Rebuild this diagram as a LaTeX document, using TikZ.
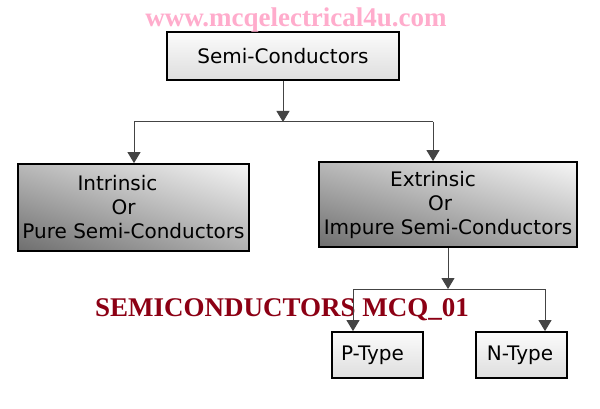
\documentclass[tikz,border=0pt]{standalone}
\usepackage{fontspec}
\setmainfont{DejaVu Sans}
\newfontfamily\timesbf{Liberation Serif}[BoldFont={Liberation Serif Bold}]
\usetikzlibrary{arrows.meta,shadings}
\definecolor{wmpink}{RGB}{255,172,204}
\definecolor{darkred}{RGB}{140,0,20}
\definecolor{conncol}{RGB}{68,68,68}
\tikzset{
  lightbox/.style={draw=black, line width=1.8pt, top color=gray!3, bottom color=gray!26, inner sep=0pt},
  darkbox/.style={draw=black, line width=1.8pt, shading=bilinear interpolation,
     lower left={rgb,255:red,110;green,110;blue,110}, lower right={rgb,255:red,175;green,175;blue,175},
     upper left={rgb,255:red,185;green,185;blue,185}, upper right={rgb,255:red,246;green,246;blue,246},
     inner sep=0pt, align=center},
  boxtext/.style={font=\fontsize{20}{24}\selectfont},
  conn/.style={draw=conncol, line width=1pt},
  arr/.style={conn, -{Triangle[width=13pt,length=11pt]}, fill=conncol}
}
\begin{document}
\begin{tikzpicture}[x=1pt,y=-1pt]
\useasboundingbox (0,0) rectangle (600,409);
\fill[white] (0,0) rectangle (600,409);
% boxes
\node[lightbox, boxtext, minimum width=232pt, minimum height=48pt] (top) at (283,56) {Semi-Conductors};
\node[darkbox, boxtext, minimum width=231pt, minimum height=87pt] (intr) at (133.5,207.5)
  {Intrinsic\kern32pt\\Or\kern20pt\\Pure Semi-Conductors};
\node[darkbox, boxtext, minimum width=258pt, minimum height=85pt] (ext) at (448,204.5)
  {Extrinsic\kern30pt\\Or\kern16pt\\Impure Semi-Conductors};
\node[lightbox, boxtext, minimum width=91pt, minimum height=46pt] (ptype) at (377.5,355) {P-Type\kern10pt};
\node[lightbox, boxtext, minimum width=91pt, minimum height=46pt] (ntype) at (521.5,355) {N-Type\kern3pt};
% texts
\node[text=wmpink, font=\timesbf\bfseries\fontsize{27}{30}\selectfont, inner sep=0pt, anchor=base] (wm) at (296,27) {www.mcqelectrical4u.com};
\node[text=darkred, font=\timesbf\bfseries\fontsize{27}{30}\selectfont, inner sep=0pt, anchor=base] (title) at (282,316) {SEMICONDUCTORS MCQ\_01};
% junction coordinates
\coordinate (j1) at (283,122);
\coordinate (jl) at (134,122);
\coordinate (jr) at (433,122);
\coordinate (j2) at (448,289);
\coordinate (kl) at (353,289);
\coordinate (kr) at (545,289);
% connectors
\draw[arr] (top.south) -- (j1);
\draw[conn] (jl) -- (jr);
\draw[arr] (jl) -- (jl |- intr.north);
\draw[arr] (jr) -- (jr |- ext.north);
\draw[arr] (ext.south) -- (j2);
\draw[conn] (kl) -- (kr);
\draw[arr] (kl) -- (kl |- ptype.north);
\draw[arr] (kr) -- (kr |- ntype.north);
\end{tikzpicture}
\end{document}
